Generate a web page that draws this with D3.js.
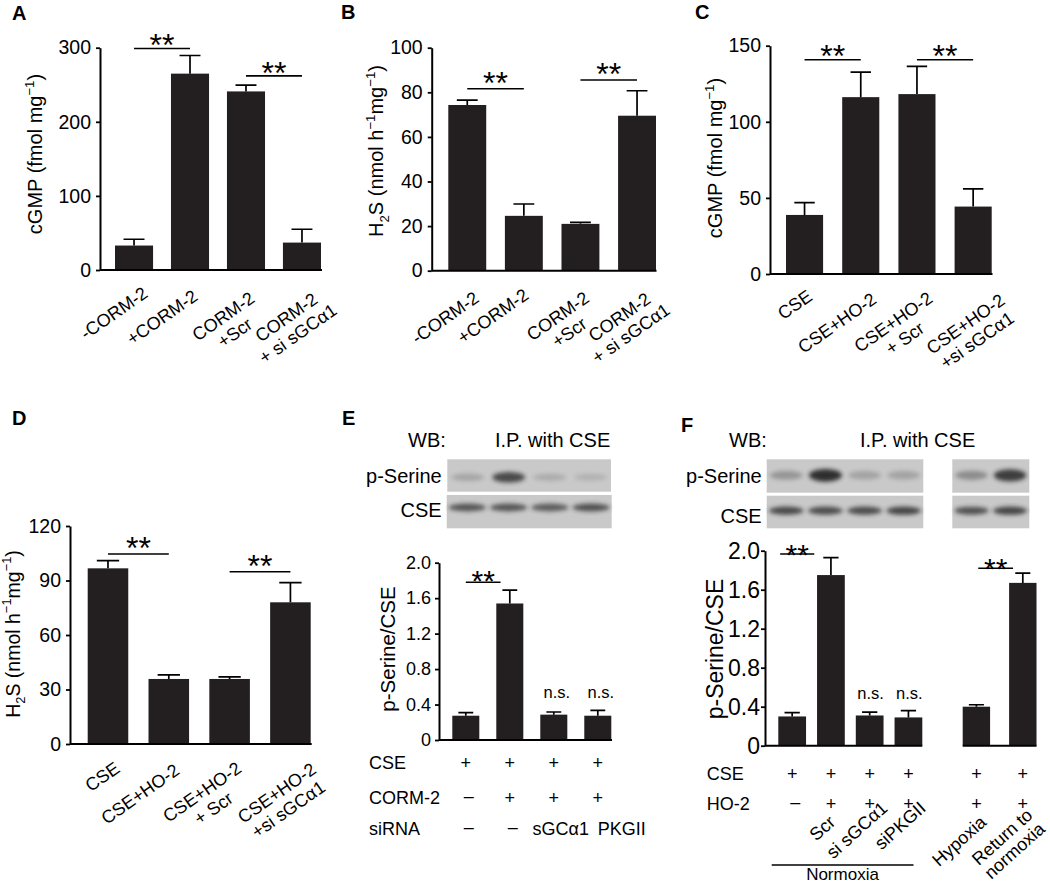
<!DOCTYPE html>
<html><head><meta charset="utf-8">
<script src="https://cdn.jsdelivr.net/npm/d3@7"></script>
<style>
body{margin:0;background:#fff}
svg{display:block}
</style></head><body>
<svg id="fig" width="1050" height="884"></svg>
<script>
// ---------------- DATA ----------------
// Panel A: cGMP (fmol mg-1)
const catsA = [["-CORM-2"], ["+CORM-2"], ["CORM-2", "+Scr"], ["CORM-2", "+ si sGCα1"]];
const meanA = [33, 265, 241, 37];
const semA  = [8.5, 24.5, 8.5, 18];
const ticksA = [0, 100, 200, 300];
const sigA = [[0, 0, 1, 299], [0, 2, 3, 262]];      // group, from, to, level

// Panel B: H2S (nmol h-1 mg-1)
const catsB = [["-CORM-2"], ["+CORM-2"], ["CORM-2", "+Scr"], ["CORM-2", "+ si sGCα1"]];
const meanB = [74.3, 24.6, 21.0, 69.5];
const semB  = [2.2, 5.3, 0.7, 11.2];
const ticksB = [0, 20, 40, 60, 80, 100];
const sigB = [[0, 0, 1, 81.6], [0, 2, 3, 85.5]];

// Panel C: cGMP (fmol mg-1)
const catsC = [["CSE"], ["CSE+HO-2"], ["CSE+HO-2", "+ Scr"], ["CSE+HO-2", "+si sGCα1"]];
const meanC = [38.8, 116.2, 118.2, 44.3];
const semC  = [8.1, 16.5, 18.2, 11.6];
const ticksC = [0, 50, 100, 150];
const sigC = [[0, 0, 1, 140.8], [0, 2, 3, 140.8]];

// Panel D: H2S (nmol h-1 mg-1)
const catsD = [["CSE"], ["CSE+HO-2"], ["CSE+HO-2", "+ Scr"], ["CSE+HO-2", "+si sGCα1"]];
const meanD = [96.7, 35.8, 35.8, 78.0];
const semD  = [4.2, 2.2, 1.2, 10.8];
const ticksD = [0, 30, 60, 90, 120];
const sigD = [[0, 0, 1, 104.6], [0, 2, 3, 94.8]];

// Panel E: p-Serine/CSE
const meanE = [0.274, 1.54, 0.286, 0.274];
const semE  = [0.034, 0.15, 0.030, 0.061];
const ticksE = [0, 0.4, 0.8, 1.2, 1.6, 2.0];
const sigE = [[0, 0, 0.79, 1.78]];
const nsE = [2, 3];
const rowNamesE = ["CSE", "CORM-2", "siRNA"];
const rowValsE = [["+", "+", "+", "+"], ["–", "+", "+", "+"], ["–", "–", "sGCα1", "PKGII"]];
const blotPSerE = [0.22, 0.8, 0.18, 0.14];
const blotCSEE  = [0.72, 0.72, 0.68, 0.75];

// Panel F: p-Serine/CSE
const meanF = [0.30, 1.75, 0.31, 0.29, 0.40, 1.67];
const semF  = [0.04, 0.18, 0.035, 0.07, 0.02, 0.10];
const ticksF = [0, 0.4, 0.8, 1.2, 1.6, 2.0];
const sigF = [[0, -0.31, 0.57, 1.966], [1, 0.04, 0.79, 1.82]];
const nsF = [2, 3];
const catsF = [null, ["Scr"], ["si sGCα1"], ["siPKGII"], ["Hypoxia"], ["Return to", "normoxia"]];
const rowNamesF = ["CSE", "HO-2"];
const rowValsF = [["+", "+", "+", "+", "+", "+"], ["–", "+", "+", "+", "+", "+"]];
const blotPSerF = [[0.32, 0.97, 0.24, 0.24], [0.38, 0.88]];
const blotCSEF  = [[0.8, 0.78, 0.78, 0.82], [0.75, 0.82]];

// ---------------- DRAWING ----------------
const FONT = '"Liberation Sans", Arial, Helvetica, sans-serif';
const BAR = "#231f20";
const svg = d3.select("#fig").attr("font-family", FONT);

const defs = svg.append("defs");
defs.append("filter").attr("id", "blur").attr("x", "-50%").attr("y", "-100%").attr("width", "200%").attr("height", "300%")
  .append("feGaussianBlur").attr("stdDeviation", 2.2);

function rich(sel, segs, fs) {
  let shift = 0;
  segs.forEach(s => {
    const target = s.sup ? -fs * 0.42 : s.sub ? fs * 0.28 : 0;
    const t = sel.append("tspan").attr("dy", target - shift).text(s.t);
    if (s.sup || s.sub) t.attr("font-size", fs * 0.66);
    shift = target;
  });
}

function letter(t, x, y) {
  svg.append("text").attr("x", x).attr("y", y).attr("font-size", 20).attr("font-weight", "bold").text(t);
}

function barPanel(p) {
  const g = svg.append("g");
  const y = d3.scaleLinear().domain([0, p.ymax]).range([p.y0, p.yTop]);
  const centers = [];
  p.groups.forEach(gr => {
    const x = d3.scaleBand().domain(gr.idx).range(gr.range).paddingInner(gr.pad).paddingOuter(0);
    gr.x = x;
    gr.idx.forEach(i => centers[i] = x(i) + x.bandwidth() / 2);
    g.selectAll(null).data(gr.idx).join("rect")
      .attr("x", i => x(i)).attr("width", x.bandwidth())
      .attr("y", i => y(p.means[i])).attr("height", i => y(0) - y(p.means[i]))
      .attr("fill", BAR);
    const cw = x.bandwidth() * p.capFrac;
    g.selectAll(null).data(gr.idx).join("path")
      .attr("d", i => `M${centers[i]},${y(p.means[i])}V${y(p.means[i] + p.sems[i])}M${centers[i] - cw / 2},${y(p.means[i] + p.sems[i])}H${centers[i] + cw / 2}`)
      .attr("stroke", "#000").attr("stroke-width", 1.7).attr("fill", "none");
    g.append("line").attr("x1", gr.axis[0]).attr("x2", gr.axis[1]).attr("y1", y(0)).attr("y2", y(0))
      .attr("stroke", "#000").attr("stroke-width", 2);
  });
  // y axis
  const ax = d3.axisLeft(y).tickValues(p.ticks).tickSize(p.tickLen).tickSizeOuter(0).tickPadding(p.tickPad)
    .tickFormat(p.fmt || (d => String(d)));
  const ag = g.append("g").attr("transform", `translate(${p.axisX},0)`).call(ax);
  ag.select(".domain").attr("stroke", "#000").attr("stroke-width", 2);
  ag.selectAll(".tick line").attr("stroke", "#000").attr("stroke-width", 1.8);
  ag.selectAll(".tick text").attr("font-size", p.tickFs).attr("font-family", FONT).attr("fill", "#000");
  ag.attr("font-family", FONT);
  // y title
  const tt = g.append("text").attr("transform", `translate(${p.titleX},${p.titleY}) rotate(-90)`)
    .attr("text-anchor", "middle").attr("font-size", p.titleFs);
  rich(tt, p.title, p.titleFs);
  // significance
  p.sig.forEach(([gi, a, b, v]) => {
    const gr = p.groups[gi], x = gr.x, c0 = x(gr.idx[0]) + x.bandwidth() / 2;
    const x1 = c0 + a * x.step(), x2 = c0 + b * x.step();
    g.append("line").attr("x1", x1).attr("x2", x2).attr("y1", y(v)).attr("y2", y(v))
      .attr("stroke", "#000").attr("stroke-width", 1.6);
    g.append("text").attr("x", (x1 + x2) / 2).attr("y", y(v) + p.starOff).attr("text-anchor", "middle")
      .attr("font-size", p.starFs).text("**");
  });
  // n.s.
  (p.ns || []).forEach(i => {
    g.append("text").attr("x", centers[i] + (p.nsDx || 0)).attr("y", p.nsY).attr("text-anchor", "middle")
      .attr("font-size", 16.5).text("n.s.");
  });
  // rotated category labels
  if (p.labels) {
    p.labels.forEach((lines, i) => {
      if (!lines) return;
      const [dx, dy] = p.labelNudge[i];
      const lg = g.append("g").attr("transform", `translate(${centers[i] + dx},${p.y0 + dy}) rotate(${p.labelRot})`)
        .attr("font-size", p.labelFs);
      const first = lg.append("text").attr("text-anchor", "end").text(lines[0]);
      const w = first.node().getComputedTextLength();
      lines.slice(1).forEach((l, k) => {
        lg.append("text").attr("x", -w / 2).attr("y", (k + 1) * p.labelLH).attr("text-anchor", "middle").text(l);
      });
    });
  }
  return centers;
}

function table(centers, names, vals, o) {
  names.forEach((n, r) => {
    svg.append("text").attr("x", o.labelX).attr("y", o.rows[r]).attr("font-size", o.fs).text(n);
    vals[r].forEach((v, i) => {
      const nd = (o.nudge && o.nudge[r] && o.nudge[r][i]) || 0;
      svg.append("text").attr("x", centers[i] + nd + (v === "–" ? 3 : 0)).attr("y", o.rows[r] + (v === "–" ? -2 : 0))
        .attr("text-anchor", "middle").attr("font-size", o.fs).text(v);
    });
  });
}

function blot(x, y, w, h, intens, bandCy, bandH, bandRx) {
  svg.append("rect").attr("x", x).attr("y", y).attr("width", w).attr("height", h).attr("fill", "#c9c9c9");
  const lw = w / intens.length;
  intens.forEach((v, i) => {
    const ry = bandH / 2 * (0.7 + 0.6 * v);
    svg.append("ellipse").attr("cx", x + lw * (i + 0.5)).attr("cy", y + bandCy).attr("rx", lw * bandRx)
      .attr("ry", ry).attr("fill", "#2a2a2a").attr("opacity", v).attr("filter", "url(#blur)");
  });
}

const titleCGMP = [{t: "cGMP (fmol mg"}, {t: "−1", sup: true}, {t: ")"}];
const titleH2S = [{t: "H"}, {t: "2", sub: true}, {t: "S (nmol h"}, {t: "−1", sup: true}, {t: "mg"}, {t: "−1", sup: true}, {t: ")"}];
const titlePS = [{t: "p-Serine/CSE"}];
const fmt1 = d => d === 0 ? "0" : d.toFixed(1);

// Panel A
letter("A", 12, 20);
barPanel({
  means: meanA, sems: semA, ticks: ticksA, ymax: 300, y0: 270, yTop: 47.7, axisX: 100,
  groups: [{idx: [0, 1, 2, 3], range: [115, 321], pad: 0.32, axis: [100, 322]}],
  tickLen: 4, tickPad: 5, tickFs: 19.5, capFrac: 0.55,
  title: titleCGMP, titleX: 42, titleY: 154, titleFs: 20,
  sig: sigA, starOff: 8, starFs: 32,
  labels: catsA, labelNudge: [[15, 26], [9, 29], [10, 31], [17, 32]], labelRot: -35, labelFs: 18, labelLH: 20
});

// Panel B
letter("B", 341, 19);
barPanel({
  means: meanB, sems: semB, ticks: ticksB, ymax: 100, y0: 270.7, yTop: 47.7, axisX: 431.7,
  groups: [{idx: [0, 1, 2, 3], range: [448.3, 656], pad: 0.33, axis: [431.7, 656.5]}],
  tickLen: 4, tickPad: 5, tickFs: 19.5, capFrac: 0.55,
  title: titleH2S, titleX: 383, titleY: 151, titleFs: 20,
  sig: sigB, starOff: 5, starFs: 32,
  labels: catsB, labelNudge: [[13, 30], [6, 27], [10, 30], [15, 31]], labelRot: -35, labelFs: 18, labelLH: 20
});

// Panel C
letter("C", 695, 19);
barPanel({
  means: meanC, sems: semC, ticks: ticksC, ymax: 150, y0: 274, yTop: 45.7, axisX: 770,
  groups: [{idx: [0, 1, 2, 3], range: [786, 991.7], pad: 0.34, axis: [770, 992.5]}],
  tickLen: 4, tickPad: 5, tickFs: 19.5, capFrac: 0.55,
  title: titleCGMP, titleX: 722, titleY: 158, titleFs: 20,
  sig: sigC, starOff: 7, starFs: 32,
  labels: catsC, labelNudge: [[9, 25], [17, 28], [17, 27], [33, 29]], labelRot: -35, labelFs: 18, labelLH: 20
});

// Panel D
letter("D", 12, 425);
barPanel({
  means: meanD, sems: semD, ticks: ticksD, ymax: 120, y0: 744, yTop: 526, axisX: 70,
  groups: [{idx: [0, 1, 2, 3], range: [87.7, 310.7], pad: 0.333, axis: [70, 311.7]}],
  tickLen: 4, tickPad: 5, tickFs: 19.5, capFrac: 0.55,
  title: titleH2S, titleX: 19.5, titleY: 634, titleFs: 19.5,
  sig: sigD, starOff: 5, starFs: 32,
  labels: catsD, labelNudge: [[13, 27], [12, 29], [13, 27], [27, 28]], labelRot: -35, labelFs: 18, labelLH: 20
});

// Panel E
letter("E", 342, 425);
svg.append("text").attr("x", 408).attr("y", 447).attr("font-size", 20).text("WB:");
svg.append("text").attr("x", 495).attr("y", 447).attr("font-size", 20).text("I.P. with CSE");
svg.append("text").attr("x", 441.7).attr("y", 483).attr("text-anchor", "end").attr("font-size", 20).text("p-Serine");
svg.append("text").attr("x", 441.7).attr("y", 516.7).attr("text-anchor", "end").attr("font-size", 20).text("CSE");
blot(447.3, 459.3, 163.7, 32.4, blotPSerE, 18, 9, 0.4);
blot(446.7, 495, 165, 33.3, blotCSEE, 12.5, 7, 0.45);
const cE = barPanel({
  means: meanE, sems: semE, ticks: ticksE, ymax: 2.0, y0: 740, yTop: 562.7, axisX: 439, fmt: fmt1,
  groups: [{idx: [0, 1, 2, 3], range: [452.3, 611.3], pad: 0.386, axis: [439, 612]}],
  tickLen: 4, tickPad: 4, tickFs: 18, capFrac: 0.55,
  title: titlePS, titleX: 395, titleY: 649, titleFs: 20.5,
  sig: sigE, starOff: 9, starFs: 30, ns: nsE, nsY: 698.3, nsDx: 3
});
table(cE, rowNamesE, rowValsE, {labelX: 369, rows: [769, 804, 835], fs: 18, nudge: [null, null, [0, 0, 7, 24]]});

// Panel F
letter("F", 681, 432);
svg.append("text").attr("x", 729).attr("y", 447).attr("font-size", 20).text("WB:");
svg.append("text").attr("x", 860).attr("y", 447).attr("font-size", 20).text("I.P. with CSE");
svg.append("text").attr("x", 761.7).attr("y", 483.3).attr("text-anchor", "end").attr("font-size", 20).text("p-Serine");
svg.append("text").attr("x", 761.7).attr("y", 523).attr("text-anchor", "end").attr("font-size", 20).text("CSE");
blot(766.7, 459.3, 156.6, 33.4, blotPSerF[0], 16, 10, 0.42);
blot(952.3, 459.3, 77, 33.4, blotPSerF[1], 16, 10, 0.42);
blot(766.7, 495.7, 156.6, 32.6, blotCSEF[0], 15, 7, 0.44);
blot(952.3, 495.7, 77, 32.6, blotCSEF[1], 15, 7, 0.44);
const cF = barPanel({
  means: meanF, sems: semF, ticks: ticksF, ymax: 2.0, y0: 745.7, yTop: 550.7, axisX: 765, fmt: fmt1,
  groups: [
    {idx: [0, 1, 2, 3], range: [778.3, 922.3], pad: 0.284, axis: [765, 922.3]},
    {idx: [4, 5], range: [962.7, 1036.5], pad: 0.41, axis: [962.7, 1036.5]}
  ],
  tickLen: 4, tickPad: 1, tickFs: 23, capFrac: 0.55,
  title: titlePS, titleX: 723.3, titleY: 649, titleFs: 23,
  sig: sigF, starOff: 11, starFs: 30, ns: nsF, nsY: 699.3, nsDx: 1,
  labels: catsF, labelNudge: [null, [5.5, 78], [19, 64], [18.5, 64], [11, 78], [11, 71]], labelRot: -42, labelFs: 18, labelLH: 18.5
});
table(cF, rowNamesF, rowValsF, {labelX: 706.7, rows: [779.5, 809.5], fs: 18});
svg.append("line").attr("x1", 771.7).attr("x2", 913.5).attr("y1", 865).attr("y2", 865).attr("stroke", "#000").attr("stroke-width", 1.5);
svg.append("text").attr("x", 842.5).attr("y", 880).attr("text-anchor", "middle").attr("font-size", 17).text("Normoxia");
</script>
</body></html>
